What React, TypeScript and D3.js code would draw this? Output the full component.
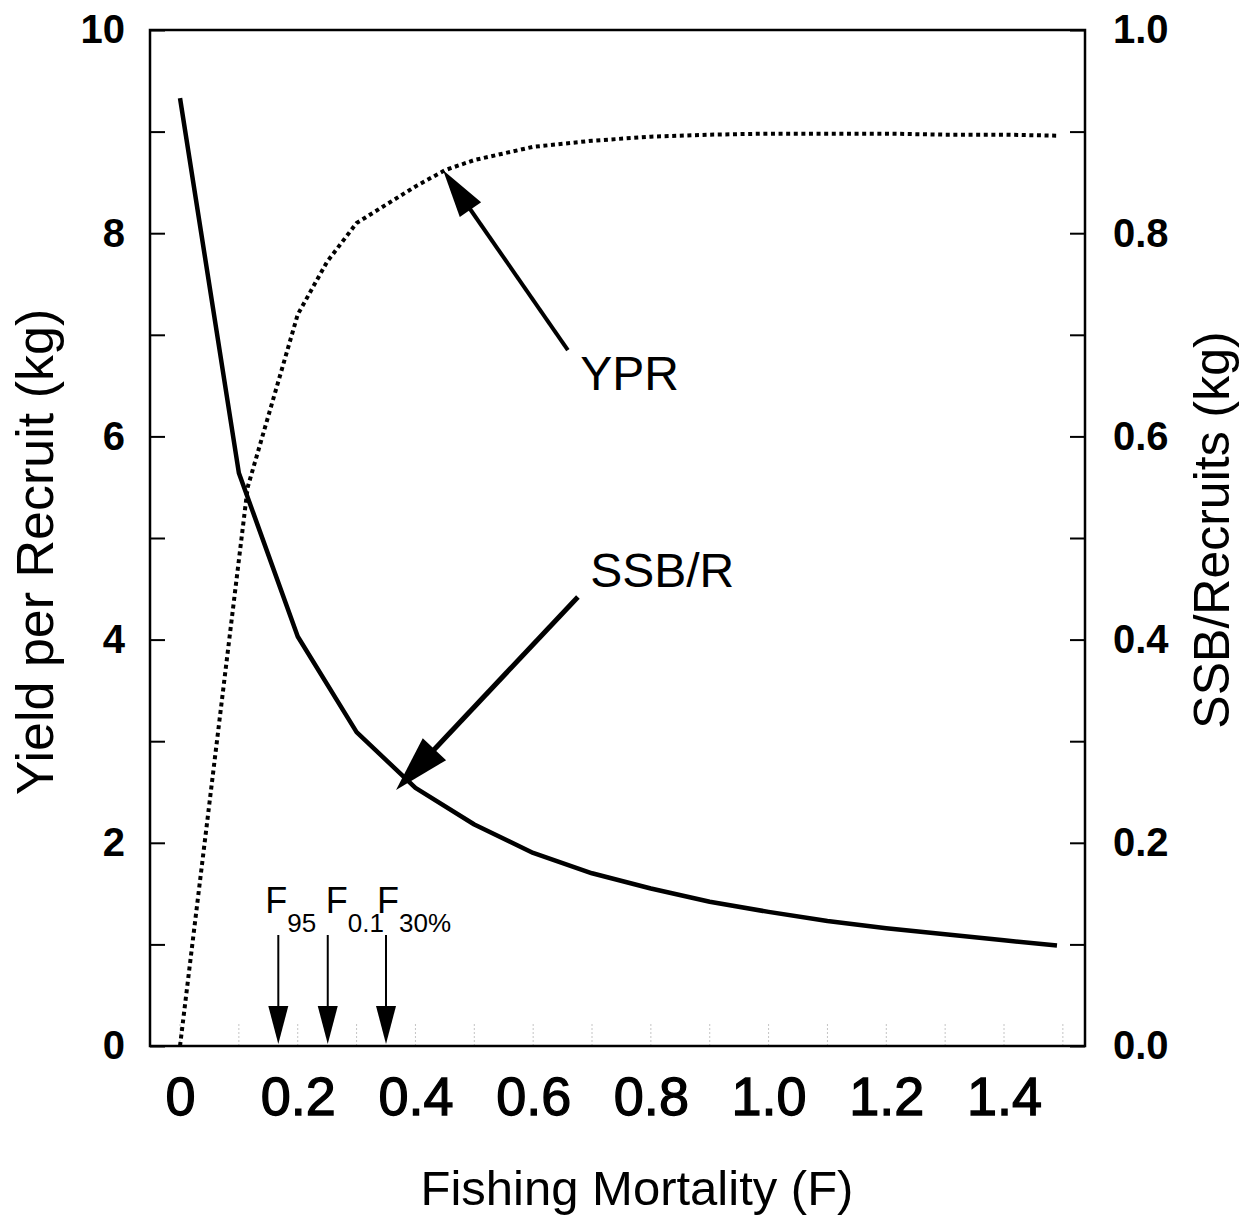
import * as React from "react";
import { useEffect, useRef } from "react";
import * as d3 from "d3";

// fishing mortality values the SSB/R curve was read at
const ssbF = [0, 0.1, 0.2, 0.3, 0.4, 0.5, 0.6, 0.7, 0.8, 0.9, 1.0, 1.1, 1.2, 1.3, 1.4, 1.49];
// spawning stock biomass per recruit (kg), right axis
const ssbPerRecruit = [0.933, 0.564, 0.403, 0.309, 0.254, 0.218, 0.19, 0.17, 0.155, 0.142, 0.132, 0.123, 0.116, 0.11, 0.104, 0.099];

// fishing mortality values the YPR curve was read at
const yprF = [0, 0.115, 0.15, 0.2, 0.25, 0.3, 0.35, 0.4, 0.45, 0.5, 0.6, 0.7, 0.8, 0.9, 1.0, 1.1, 1.2, 1.3, 1.4, 1.49];
// yield per recruit (kg), left axis
const yieldPerRecruit = [0, 5.5, 6.2, 7.2, 7.72, 8.1, 8.28, 8.46, 8.62, 8.72, 8.85, 8.91, 8.95, 8.97, 8.98, 8.98, 8.98, 8.97, 8.97, 8.96];

// reference points marked with arrows on the x axis
const refLabels = ["95", "0.1", "30%"];
const refF = [0.167, 0.251, 0.35];

const xTickValues = [0, 0.2, 0.4, 0.6, 0.8, 1.0, 1.2, 1.4];
const leftTickValues = d3.range(0, 11, 1);
const rightTickValues = d3.range(0, 11, 1).map((d) => d / 10);

const FONT = "'Liberation Sans', Arial, Helvetica, sans-serif";

export default function App() {
    const rootRef = useRef<SVGSVGElement | null>(null);

    useEffect(() => {
        const svg = d3.select(rootRef.current);
        svg.selectAll("*").remove();

        const box = { left: 150, right: 1085, top: 30, bottom: 1046 };

        const x = d3.scaleLinear().domain([-0.051, 1.5376]).range([box.left, box.right]);
        const yLeft = d3.scaleLinear().domain([0, 10]).range([box.bottom, box.top]);
        const yRight = d3.scaleLinear().domain([0, 1]).range([box.bottom, box.top]);

        // faint marks along the bottom every 0.1
        svg.append("g")
            .selectAll("line")
            .data(d3.range(0, 16).map((d) => d / 10))
            .enter()
            .append("line")
            .attr("x1", (d) => x(d))
            .attr("x2", (d) => x(d))
            .attr("y1", box.bottom)
            .attr("y2", box.bottom - 22)
            .style("stroke", "#c4c4c4")
            .style("stroke-width", 1)
            .style("stroke-dasharray", "2 2");

        // left axis
        const leftAxis = d3.axisLeft(yLeft)
            .tickValues(leftTickValues)
            .tickSizeInner(-15)
            .tickSizeOuter(0)
            .tickPadding(25)
            .tickFormat((d: any) => (d % 2 === 0 ? String(d) : ""));
        const gl = svg.append("g").attr("transform", "translate(" + box.left + ",0)").call(leftAxis as any);
        gl.select(".domain").remove();
        gl.selectAll("line").style("stroke", "#000").style("stroke-width", 2);
        gl.selectAll("text")
            .style("font-family", FONT)
            .style("font-size", "40px")
            .style("font-weight", "bold")
            .style("fill", "#000");

        // right axis
        const rightAxis = d3.axisRight(yRight)
            .tickValues(rightTickValues)
            .tickSizeInner(-15)
            .tickSizeOuter(0)
            .tickPadding(28)
            .tickFormat((d: any) => (Math.round(d * 10) % 2 === 0 ? d3.format(".1f")(d) : ""));
        const gr = svg.append("g").attr("transform", "translate(" + box.right + ",0)").call(rightAxis as any);
        gr.select(".domain").remove();
        gr.selectAll("line").style("stroke", "#000").style("stroke-width", 2);
        gr.selectAll("text")
            .style("font-family", FONT)
            .style("font-size", "40px")
            .style("font-weight", "bold")
            .style("fill", "#000");

        // bottom axis, labels only
        const bottomAxis = d3.axisBottom(x)
            .tickValues(xTickValues)
            .tickSize(0)
            .tickPadding(31)
            .tickFormat((d: any) => (d === 0 ? "0" : d3.format(".1f")(d)));
        const gb = svg.append("g").attr("transform", "translate(0," + box.bottom + ")").call(bottomAxis as any);
        gb.select(".domain").remove();
        gb.selectAll("text")
            .style("font-family", FONT)
            .style("font-size", "54px")
            .style("fill", "#000")
            .style("stroke", "#000")
            .style("stroke-width", 1.3);

        // frame
        svg.append("rect")
            .attr("x", box.left)
            .attr("y", box.top)
            .attr("width", box.right - box.left)
            .attr("height", box.bottom - box.top)
            .style("fill", "none")
            .style("stroke", "#000")
            .style("stroke-width", 2.5);

        // curves
        const ssbLine = d3.line<number>()
            .x((d, i) => x(ssbF[i]))
            .y((d) => yRight(d));
        svg.append("path")
            .datum(ssbPerRecruit)
            .attr("d", ssbLine)
            .style("fill", "none")
            .style("stroke", "#000")
            .style("stroke-width", 4.5)
            .style("stroke-linejoin", "round");

        const yprLine = d3.line<number>()
            .x((d, i) => x(yprF[i]))
            .y((d) => yLeft(d));
        svg.append("path")
            .datum(yieldPerRecruit)
            .attr("d", yprLine)
            .style("fill", "none")
            .style("stroke", "#000")
            .style("stroke-width", 4)
            .style("stroke-dasharray", "4 3.6");

        // arrow with a filled triangular head, from (x1,y1) to tip (x2,y2)
        const drawArrow = (x1: number, y1: number, x2: number, y2: number, width: number, headLen: number, headHalf: number) => {
            const ang = Math.atan2(y2 - y1, x2 - x1);
            const ux = Math.cos(ang), uy = Math.sin(ang);
            const bx = x2 - ux * headLen, by = y2 - uy * headLen;
            svg.append("line")
                .attr("x1", x1).attr("y1", y1)
                .attr("x2", bx + ux * 2).attr("y2", by + uy * 2)
                .style("stroke", "#000")
                .style("stroke-width", width);
            svg.append("path")
                .attr("d", "M" + x2 + "," + y2 +
                    "L" + (bx - uy * headHalf) + "," + (by + ux * headHalf) +
                    "L" + (bx + uy * headHalf) + "," + (by - ux * headHalf) + "Z")
                .style("fill", "#000");
        };

        // YPR callout
        drawArrow(x(0.659), yLeft(6.85), x(0.447), yLeft(8.62), 4, 48, 13);
        svg.append("text")
            .attr("x", x(0.68))
            .attr("y", yLeft(6.46))
            .text("YPR")
            .style("font-family", FONT)
            .style("font-size", "48px")
            .style("fill", "#000");

        // SSB/R callout
        drawArrow(x(0.676), yRight(0.442), x(0.367), yRight(0.252), 5, 56, 16);
        svg.append("text")
            .attr("x", x(0.697))
            .attr("y", yRight(0.452))
            .text("SSB/R")
            .style("font-family", FONT)
            .style("font-size", "48px")
            .style("fill", "#000");

        // reference point arrows
        const labelShift = [-13, -2, -9];
        refF.forEach((f, i) => {
            drawArrow(x(f), 935, x(f), box.bottom - 2, 2, 38, 10);
            const t = svg.append("text")
                .attr("x", x(f) + labelShift[i])
                .attr("y", 913)
                .style("font-family", FONT)
                .style("fill", "#000");
            t.append("tspan").text("F").style("font-size", "36px");
            t.append("tspan").attr("dy", 19).text(refLabels[i]).style("font-size", "26px");
        });

        // axis titles
        svg.append("text")
            .attr("x", 637)
            .attr("y", 1205)
            .attr("text-anchor", "middle")
            .text("Fishing Mortality (F)")
            .style("font-family", FONT)
            .style("font-size", "49px")
            .style("fill", "#000");

        svg.append("text")
            .attr("transform", "translate(53,552) rotate(-90)")
            .attr("text-anchor", "middle")
            .text("Yield per Recruit (kg)")
            .style("font-family", FONT)
            .style("font-size", "52px")
            .style("fill", "#000");

        svg.append("text")
            .attr("transform", "translate(1229,530) rotate(-90)")
            .attr("text-anchor", "middle")
            .text("SSB/Recruits (kg)")
            .style("font-family", FONT)
            .style("font-size", "50px")
            .style("fill", "#000");
    }, []);

    return (
        <svg
            ref={rootRef}
            width={1242}
            height={1220}
            style={{ position: "absolute", left: 0, top: 0, background: "#fff" }}
        />
    );
}
